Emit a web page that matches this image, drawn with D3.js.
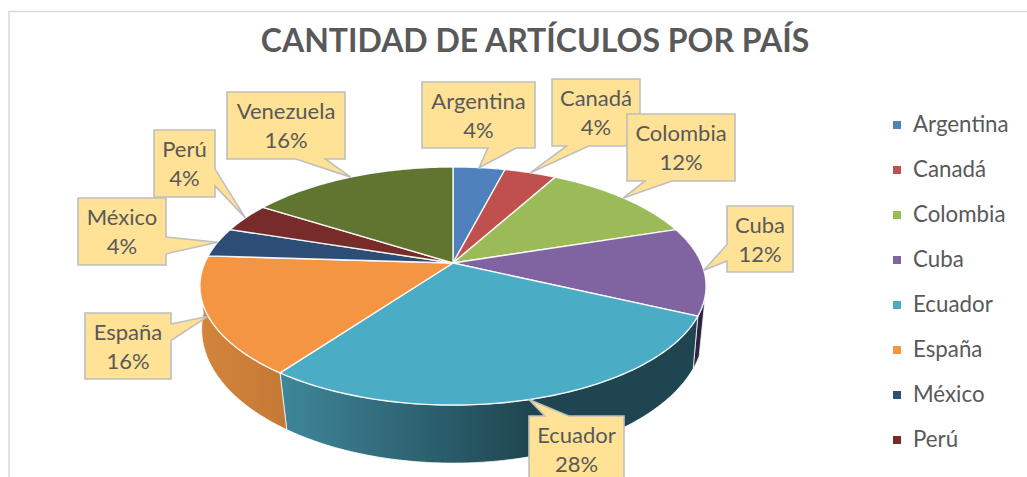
<!DOCTYPE html>
<html>
<head>
<meta charset="utf-8">
<script src="https://cdn.jsdelivr.net/npm/d3@7"></script>
<style>
    html, body { margin: 0; background: #fff; overflow: hidden; }
    text { font-family: Lato, "Open Sans", sans-serif; fill: #595959; }
</style>
</head>
<body>
<svg></svg>
<script>
let countries = ['Argentina', 'Canadá', 'Colombia', 'Cuba', 'Ecuador', 'España', 'México', 'Perú', 'Venezuela']
let percents = [4, 4, 12, 12, 28, 16, 4, 4, 16]
let legendNames = ['Argentina', 'Canadá', 'Colombia', 'Cuba', 'Ecuador', 'España', 'México', 'Perú']
let titleText = 'CANTIDAD DE ARTÍCULOS POR PAÍS'
let sliceColors = ['#4f81bd', '#c0504d', '#9bbb59', '#8064a2', '#4bacc6', '#f39543', '#2c4d75', '#772c2a', '#5f7530']

// label boxes, left, top, right, bottom
let boxes = {
    'Argentina': [422, 82, 535, 148],
    'Canadá': [552, 79, 640, 146],
    'Colombia': [627, 114, 735, 181],
    'Cuba': [727, 206, 793, 272],
    'Ecuador': [529, 416, 624, 482],
    'España': [85, 313, 171, 379],
    'México': [78, 198, 166, 265],
    'Perú': [154, 130, 215, 197],
    'Venezuela': [227, 92, 345, 159]
}
let boxOrder = ['Argentina', 'Canadá', 'Colombia', 'Cuba', 'Ecuador', 'España', 'Perú', 'México', 'Venezuela']

let width = 1027
let height = 477

let svg = d3.select('svg').attr('width', width).attr('height', height)
let defs = svg.append('defs')

let color = d3.scaleOrdinal().domain(countries).range(sliceColors)

let arcs = d3.pie().sort(null).value((d, i) => percents[i])(countries)

// the tilted disc is a perspective view of a circle, angle 0 at the top, clockwise
let project = (t, r, p) => {
    let u = Math.sin(t) * r
    let v = -Math.cos(t) * r
    let s = 1 / (1 - p.k * v)
    return [p.cx + p.b * u * s, p.cy + p.a * v * s]
}
let topDisc = {cx: 453, cy: 263, a: 114.6, b: 248.3, k: 0.1933}
let lowDisc = {cx: 453, cy: 309, a: 131, b: 248.5, k: 0.15}

let deg = (d) => d * Math.PI / 180
let sweep = (from, to) => {
    let n = Math.max(2, Math.ceil(Math.abs(to - from) / deg(1)))
    return d3.range(n + 1).map((i) => from + (to - from) * i / n)
}
let line = d3.line()

// side walls, only the part of each slice that faces the viewer
let wallGrad = defs.append('linearGradient').attr('id', 'wallEcuador')
    .attr('gradientUnits', 'userSpaceOnUse')
    .attr('x1', 285).attr('x2', 530).attr('y1', 0).attr('y2', 0)
wallGrad.append('stop').attr('offset', 0).attr('stop-color', '#3e8599')
wallGrad.append('stop').attr('offset', 1).attr('stop-color', '#1f4650')

let spainGrad = defs.append('linearGradient').attr('id', 'wallEspana')
    .attr('gradientUnits', 'userSpaceOnUse')
    .attr('x1', 205).attr('x2', 285).attr('y1', 0).attr('y2', 0)
spainGrad.append('stop').attr('offset', 0).attr('stop-color', '#d2843b')
spainGrad.append('stop').attr('offset', 1).attr('stop-color', '#c47935')

let walls = [
    {name: 'Cuba', fill: '#2e2342', topFrom: 105, bottomFrom: 110},
    {name: 'Ecuador', fill: 'url(#wallEcuador)'},
    {name: 'España', fill: 'url(#wallEspana)', topTo: 252, bottomTo: 268}
]

walls.forEach((w) => {
    let a = arcs[countries.indexOf(w.name)]
    let topFrom = w.topFrom ? deg(w.topFrom) : a.startAngle
    let topTo = w.topTo ? deg(w.topTo) : a.endAngle
    let lowFrom = w.bottomFrom ? deg(w.bottomFrom) : a.startAngle
    let lowTo = w.bottomTo ? deg(w.bottomTo) : a.endAngle
    let upper = sweep(topFrom, topTo).map((t) => project(t, 1, topDisc))
    let lower = sweep(lowTo, lowFrom).map((t) => project(t, 1, lowDisc))
    svg.append('path')
        .attr('class', 'wall')
        .attr('d', line(upper.concat(lower)) + 'Z')
        .attr('fill', w.fill)
        .attr('stroke', '#fff')
        .attr('stroke-opacity', 0.75)
        .attr('stroke-width', 1)
})

// top face
svg.selectAll('path.slice')
    .data(arcs)
    .enter()
    .append('path')
    .attr('class', 'slice')
    .attr('fill', (d) => color(d.data))
    .attr('stroke', '#fff')
    .attr('stroke-opacity', 0.9)
    .attr('stroke-width', 1.4)
    .attr('stroke-linejoin', 'round')
    .attr('d', (d) => {
        let rim = sweep(d.startAngle, d.endAngle).map((t) => project(t, 1, topDisc))
        return line([project(0, 0, topDisc)].concat(rim)) + 'Z'
    })

// callouts, the wedge sits on the box side facing its slice
let calloutPath = (box, tip) => {
    let [l, t, r, b] = box
    let w = r - l
    let h = b - t
    let dx = (tip[0] - (l + r) / 2) / w
    let dy = (tip[1] - (t + b) / 2) / h
    let base = (size, d) => d <= 0 ? [size / 6, size * 5 / 12] : [size * 7 / 12, size * 5 / 6]
    let pts
    if (Math.abs(dy) >= Math.abs(dx)) {
        let [p, q] = base(w, dx)
        pts = dy > 0
            ? [[l, t], [r, t], [r, b], [l + q, b], tip, [l + p, b], [l, b]]
            : [[l, t], [l + p, t], tip, [l + q, t], [r, t], [r, b], [l, b]]
    } else {
        let [p, q] = base(h, dy)
        pts = dx > 0
            ? [[l, t], [r, t], [r, t + p], tip, [r, t + q], [r, b], [l, b]]
            : [[l, t], [r, t], [r, b], [l, b], [l, t + q], tip, [l, t + p]]
    }
    return line(pts) + 'Z'
}

boxOrder.forEach((name) => {
    let i = countries.indexOf(name)
    let box = boxes[name]
    let mid = (arcs[i].startAngle + arcs[i].endAngle) / 2
    let tip = project(mid, 1, topDisc)
    let g = svg.append('g').attr('class', 'callout')
    g.append('path')
        .attr('d', calloutPath(box, tip))
        .attr('fill', '#ffe295')
        .attr('stroke', '#bfbfbf')
        .attr('stroke-width', 1.6)
    let cx = (box[0] + box[2]) / 2
    let cy = (box[1] + box[3]) / 2
    g.append('text').attr('x', cx).attr('y', cy - 6.5)
        .attr('text-anchor', 'middle').style('font-size', '22px').text(name)
    g.append('text').attr('x', cx).attr('y', cy + 22.5)
        .attr('text-anchor', 'middle').style('font-size', '22px').text(percents[i] + '%')
})

// legend
let legendY = d3.scalePoint().domain(legendNames).range([125, 440])
let legend = svg.selectAll('g.legend')
    .data(legendNames)
    .enter()
    .append('g')
    .attr('class', 'legend')
    .attr('transform', (d) => 'translate(0,' + legendY(d) + ')')
legend.append('rect')
    .attr('x', 893).attr('y', -4).attr('width', 8).attr('height', 8)
    .attr('fill', (d) => color(d))
legend.append('text')
    .attr('x', 913).attr('y', 7)
    .style('font-size', '22.3px')
    .text((d) => d)

// title and frame
svg.append('text')
    .attr('x', 535).attr('y', 52)
    .attr('text-anchor', 'middle')
    .style('font-size', '32px')
    .style('font-weight', 700)
    .text(titleText)

svg.append('path')
    .attr('d', line([[9, height], [9, 11.5], [width, 11.5]]))
    .attr('fill', 'none')
    .attr('stroke', '#d9d9d9')
    .attr('stroke-width', 1.5)
</script>
</body>
</html>
